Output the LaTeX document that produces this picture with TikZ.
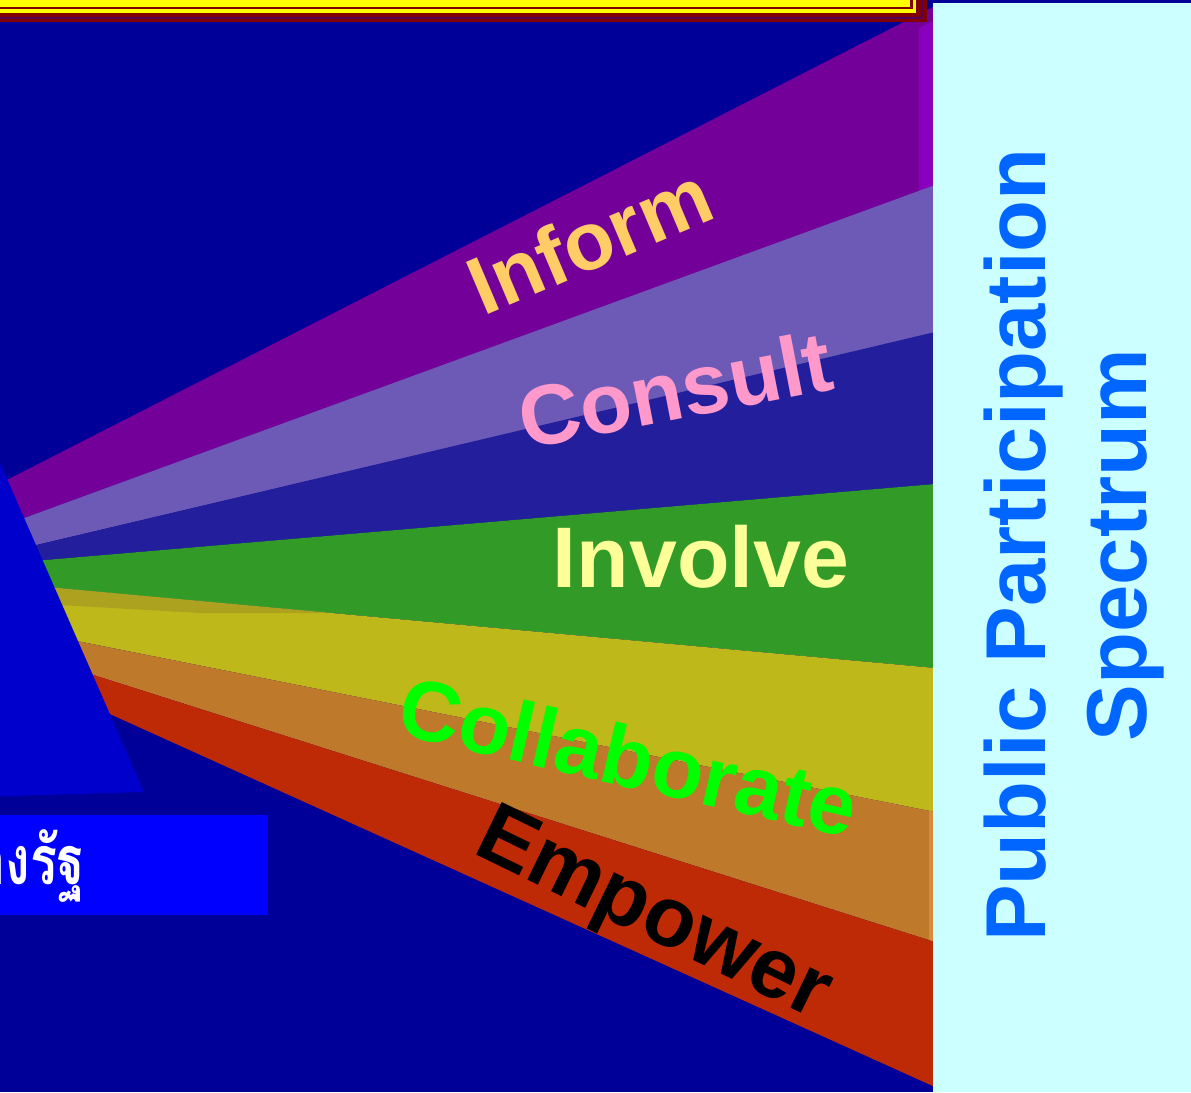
\documentclass[tikz,border=0pt]{standalone}
\usepackage{fontspec}
\setmainfont{Liberation Sans}
\newfontfamily\thaifont[Script=Thai]{Loma}
\definecolor{bg}{RGB}{0,0,153}
\definecolor{cpurple}{RGB}{115,0,153}
\definecolor{cpurplehi}{RGB}{136,0,190}
\definecolor{clav}{RGB}{108,90,182}
\definecolor{cind}{RGB}{34,30,156}
\definecolor{cgreen}{RGB}{50,155,40}
\definecolor{cyellow}{RGB}{190,184,26}
\definecolor{colive}{RGB}{172,162,32}
\definecolor{corange}{RGB}{190,121,42}
\definecolor{corangehi}{RGB}{215,140,60}
\definecolor{cred}{RGB}{190,42,5}
\definecolor{cprism}{RGB}{0,0,204}
\definecolor{cbox}{RGB}{0,0,255}
\definecolor{fred}{RGB}{128,0,0}
\definecolor{fdark}{RGB}{80,0,90}
\definecolor{fyel}{RGB}{255,255,0}
\definecolor{cpanel}{RGB}{204,255,255}
\definecolor{ctitle}{RGB}{0,102,255}
\definecolor{cinform}{RGB}{255,204,102}
\definecolor{cconsult}{RGB}{255,153,204}
\definecolor{cinvolve}{RGB}{255,255,153}
\definecolor{ccollab}{RGB}{0,255,0}
\begin{document}
\begin{tikzpicture}[x=1pt,y=-1pt,
  beamlbl/.style={inner sep=0pt, anchor=base, font=\bfseries\fontsize{#1}{#1}\selectfont},
  beamlbl/.default=84]
\useasboundingbox (0,0) rectangle (1191,1092);
\clip (0,0) rectangle (1191,1092);
\fill[bg] (0,0) rectangle (1191,1092);
% beams
\fill[cpurple] (-1,484) -- (935,6) -- (935,186) -- (16,521) -- cycle;
\begin{scope}
  \clip (-1,484) -- (935,6) -- (935,186) -- (16,521) -- cycle;
  \fill[cpurplehi] (919,28) -- (935,20) -- (935,200) -- (919,200) -- cycle;
\end{scope}
\fill[clav] (16,521) -- (935,185) -- (935,333) -- (28,547) -- cycle;
\fill[cind] (28,547) -- (935,332) -- (935,484) -- (34,561) -- cycle;
\fill[cgreen] (34,561) -- (935,484) -- (935,668) -- (46,587) -- cycle;
\fill[cyellow] (46,587) -- (935,668) -- (935,812) -- (72,640) -- cycle;
\fill[colive] (46,587) -- (330,613) -- (200,613) -- (60,605) -- cycle;
\fill[corange] (72,640) -- (935,812) -- (935,942) -- (84,672) -- cycle;
\begin{scope}
  \clip (72,640) -- (935,812) -- (935,942) -- (84,672) -- cycle;
  \fill[corangehi] (929,800) rectangle (935,950);
\end{scope}
\fill[cred] (84,672) -- (935,942) -- (935,1087) -- (101,710) -- cycle;
% prism
\fill[cprism] (-20,417) -- (144,792) -- (-20,797) -- cycle;
% top frame
\fill[fred] (-10,-10) rectangle (927,22.3);
\fill[fdark] (-10,-10) rectangle (923,19.3);
\fill[fred] (-10,-10) rectangle (921,17.3);
\fill[fyel] (-10,-10) rectangle (916,12.7);
\fill[fred] (-10,-10) rectangle (913,9);
\fill[fyel] (-10,-10) rectangle (910,6.7);
% right panel
\fill[cpanel] (933,3) rectangle (1191,1092);
% bottom box
\node[fill=cbox, inner sep=0pt, minimum width=278pt, minimum height=100pt, anchor=north east] (box) at (268,815) {};
\node[inner sep=0pt, anchor=base east, text=white, font=\thaifont\bfseries\fontsize{68}{68}\selectfont] (thai) at (85,884) {\scalebox{0.74}[1]{องรัฐ}};
% beam labels
\node[beamlbl=82, text=cinform, rotate=23] (inform) at (601,267) {Inform};
\node[beamlbl=85, text=cconsult, rotate=11] (consult) at (681,419) {Consult};
\node[beamlbl=86, text=cinvolve] (involve) at (701,587) {Involve};
\node[beamlbl=85, text=ccollab, rotate=-13] (collab) at (622,786) {Collaborate};
\node[beamlbl=85, text=black, rotate=-26] (empower) at (643,936) {Empower};
% title
\node[beamlbl=85, text=ctitle, rotate=90] (t1) at (1045,545) {Public Participation};
\node[beamlbl=85, text=ctitle, rotate=90] (t2) at (1146,545) {Spectrum};
\end{tikzpicture}
\end{document}
